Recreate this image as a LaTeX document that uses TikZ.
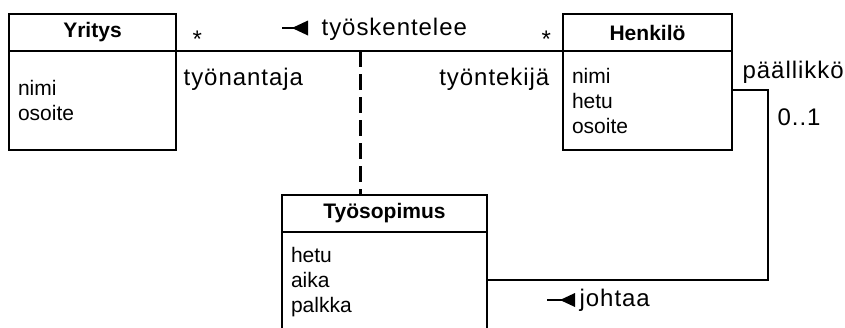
\documentclass[tikz,border=0pt]{standalone}
\usepackage{fontspec}
\setmainfont{Liberation Sans}
\newfontfamily\lblfont[LetterSpace=4]{Liberation Sans}
\usetikzlibrary{positioning}

\tikzset{
  classhead/.style={draw, line width=1.3pt, outer sep=0pt, minimum height=37pt,
    inner sep=0pt, font=\fontsize{21}{25}\selectfont\bfseries},
  classbody/.style={draw, line width=1.3pt, outer sep=0pt, minimum height=99pt,
    inner xsep=9pt, inner ysep=0pt, align=left, font=\fontsize{21}{25}\selectfont},
  lbl/.style={inner sep=0pt, font=\lblfont\fontsize{24}{28}\selectfont},
}

\begin{document}
\begin{tikzpicture}[x=1pt, y=-1pt, line width=1.3pt]
\useasboundingbox (0,0) rectangle (845,327);
\clip (0,0) rectangle (845,327);

% luokat
\node[classhead, minimum width=167pt] (yritys) at (92.5,32.5) {Yritys};
\node[classbody, text width=149pt, below=0pt of yritys] (yritysAttr) {nimi\\osoite};

\node[classhead, minimum width=169pt] (henkilo) at (647.5,32.5) {Henkilö};
\node[classbody, text width=151pt, below=0pt of henkilo] (henkiloAttr) {nimi\\hetu\\osoite};

\node[classhead, minimum width=205pt] (tyosopimus) at (384.5,213.5) {Työsopimus};
\node[classbody, text width=187pt, minimum height=101pt, below=0pt of tyosopimus] (tyosopimusAttr) {hetu\\aika\\palkka};

% työskentelee + assosiaatioluokka
\draw (yritys.south east) -- (henkilo.south west);
\coordinate (assoc) at (360,51);
\draw[line width=3pt, dash pattern=on 16pt off 7pt] (assoc) -- (assoc |- tyosopimus.north);

% johtaa
\coordinate (k1) at (768,90);
\coordinate (k2) at (768,280);
\draw (henkiloAttr.east |- k1) -- (k1) -- (k2) -- (k2 -| tyosopimusAttr.east);

% roolit ja kertoimet
\node[lbl, anchor=base west] (m1) at (192,47) {*};
\node[lbl, anchor=base west] (m2) at (541,47) {*};
\node[lbl, anchor=base west] (r1) at (183,85) {työnantaja};
\node[lbl, anchor=base east] (r2) at (550,85) {työntekijä};
\node[lbl, anchor=base west] (r3) at (742,78) {päällikkö};
\node[lbl, anchor=base west] (m3) at (777,125) {0..1};

\node[lbl, anchor=base west] (tyoskentelee) at (321,35) {työskentelee};
\node[lbl, anchor=base west] (johtaa) at (579,306) {johtaa};

% lukusuunnan nuolet
\coordinate (p1) at (282,28);
\draw (p1) -- ++(13,0);
\fill (p1) ++(10,0) -- ++(16,-7.5) -- ++(0,15) -- cycle;
\coordinate (p2) at (547,300);
\draw (p2) -- ++(16,0);
\fill (p2) ++(13,0) -- ++(15,-7) -- ++(0,14) -- cycle;
\end{tikzpicture}
\end{document}
